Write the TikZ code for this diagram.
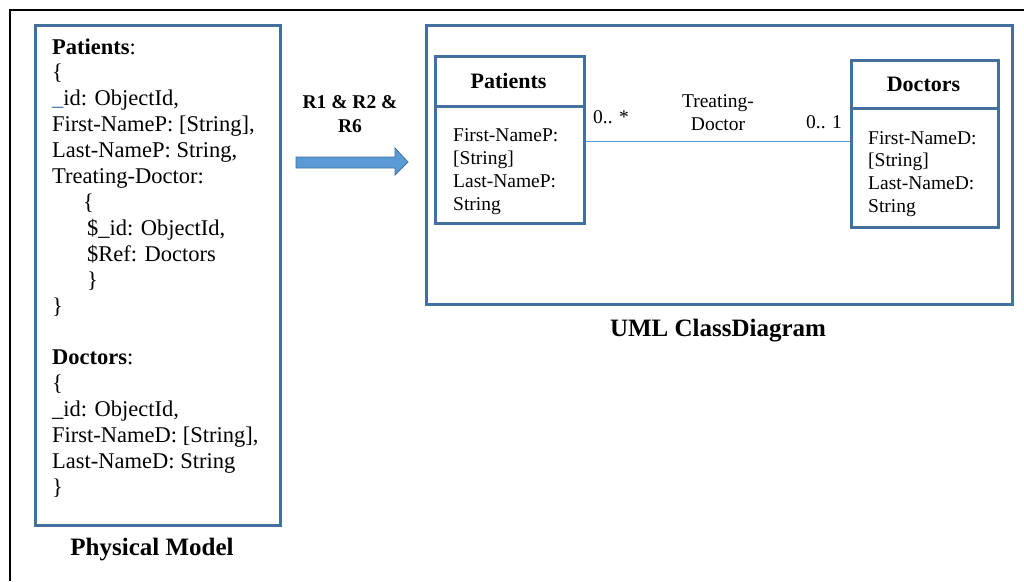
\documentclass[tikz,border=0pt]{standalone}
\usepackage{fontspec}
\setmainfont{Liberation Serif}
\definecolor{boxblue}{RGB}{65,113,156}
\definecolor{lineblue}{RGB}{91,155,213}
\newcommand{\blueus}{\textcolor{boxblue}{\_}}
\begin{document}
\begin{tikzpicture}[x=1pt,y=-1pt,
  frame/.style={draw=boxblue,line width=2.6pt},
  classbox/.style={draw=boxblue,line width=3pt,anchor=north west,inner sep=0pt},
  txt/.style={anchor=base west,inner sep=0pt},
  ctxt/.style={anchor=base,inner sep=0pt},
  big/.style={font=\fontsize{22.5}{25.9}\selectfont},
  cls/.style={font=\fontsize{19.5}{22.8}\selectfont},
  clsname/.style={font=\fontsize{22}{26}\selectfont\bfseries},
  title/.style={font=\fontsize{25}{30}\selectfont\bfseries}]
\useasboundingbox (0,0) rectangle (1024,581);
\fill[white] (0,0) rectangle (1024,581);

% outer black frame (open to the right and bottom)
\draw[black,line width=2.2pt] (10,581) -- (10,10) -- (1024,10);

% ---- physical model ----
\node[frame,anchor=north west,minimum width=245,minimum height=500,inner sep=0pt] (phys) at (34,24) {};
\foreach \t [count=\i from 0] in {%
  {\textbf{Patients}:},
  {\{},
  {\blueus id: ObjectId,},
  {First-NameP: [String],},
  {Last-NameP: String,},
  {Treating-Doctor:},
  {\hspace*{31pt}\{},
  {\hspace*{35pt}\$\_id: ObjectId,},
  {\hspace*{35pt}\$Ref: Doctors},
  {\hspace*{35pt}\}},
  {\}},
  {},
  {\textbf{Doctors}:},
  {\{},
  {\_id: ObjectId,},
  {First-NameD: [String],},
  {Last-NameD: String},
  {\}}}
  \node[txt,big] (phys\i) at (52,54+\i*25.9) {\t};
\node[ctxt,title] (physTitle) at (152,555) {Physical Model};

% ---- transformation arrow ----
\node[ctxt,font=\fontsize{19.5}{24}\selectfont\bfseries] (rulesA) at (350,108) {R1 \& R2 \&};
\node[ctxt,font=\fontsize{19.5}{24}\selectfont\bfseries] (rulesB) at (350,132) {R6};
\draw[draw=boxblue,fill=lineblue,line width=0.8pt]
  (296,157) -- (395,157) -- (395,148) -- (408,162) -- (395,175) -- (395,168) -- (296,168) -- cycle;

% ---- UML class diagram ----
\node[frame,anchor=north west,minimum width=586,minimum height=279,inner sep=0pt] (uml) at (425,24) {};
\node[ctxt,title] (umlTitle) at (718,336) {UML ClassDiagram};

% Patients class
\node[classbox,minimum width=149,minimum height=167] (pat) at (434,55) {};
\draw[boxblue,line width=3pt] (pat.west |- 0,106) -- (pat.east |- 0,106);
\node[ctxt,clsname] (patName) at (508.5,88) {Patients};
\foreach \t [count=\i from 0] in {First-NameP:,{[String]},Last-NameP:,String}
  \node[txt,cls] (patAttr\i) at (453,141+\i*23) {\t};

% Doctors class
\node[classbox,minimum width=147,minimum height=167] (doc) at (850,59) {};
\draw[boxblue,line width=3pt] (doc.west |- 0,108) -- (doc.east |- 0,108);
\node[ctxt,clsname] (docName) at (923.5,91) {Doctors};
\foreach \t [count=\i from 0] in {First-NameD:,{[String]},Last-NameD:,String}
  \node[txt,cls] (docAttr\i) at (868,144+\i*22.7) {\t};

% association
\draw[lineblue,line width=1pt] (pat.east |- 0,141) -- (doc.west |- 0,141);
\node[txt,cls] (multP) at (593,123) {0.. *};
\node[ctxt,cls] (assocA) at (718,107) {Treating-};
\node[ctxt,cls] (assocB) at (718,130) {Doctor};
\node[txt,cls] (multD) at (806,128) {0.. 1};
\end{tikzpicture}
\end{document}
